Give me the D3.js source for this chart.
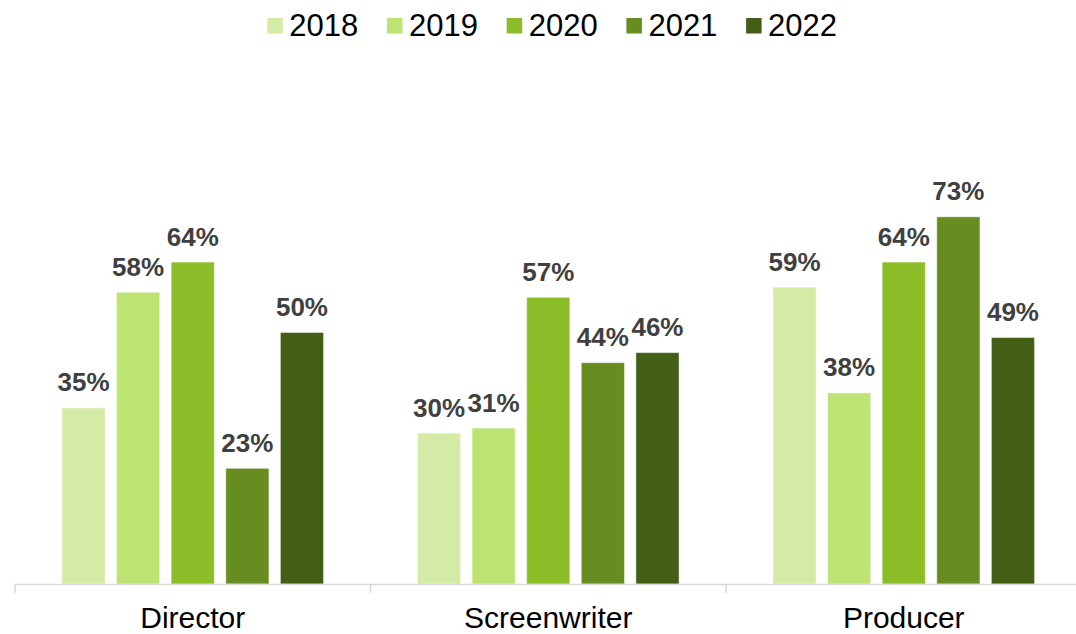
<!DOCTYPE html>
<html>
<head>
<meta charset="utf-8">
<script src="https://cdn.jsdelivr.net/npm/d3@7"></script>
<style>
  html, body { margin: 0; padding: 0; background: #ffffff; }
  svg { display: block; }
  text { font-family: "Liberation Sans", Arial, sans-serif; }
</style>
</head>
<body>
<svg id="chart" width="1076" height="634"></svg>
<script>
// Share of roles by year (percent)
const categories = ["Director", "Screenwriter", "Producer"];
const years = ["2018", "2019", "2020", "2021", "2022"];
const values2018 = [35, 30, 59];
const values2019 = [58, 31, 38];
const values2020 = [64, 57, 64];
const values2021 = [23, 44, 73];
const values2022 = [50, 46, 49];
const seriesValues = [values2018, values2019, values2020, values2021, values2022];
const colors = ["#d3eba4", "#bde372", "#8abd27", "#678c20", "#435f15"];

const svg = d3.select("#chart");
const W = 1076, H = 634;
const baseY = 584;

const x0 = d3.scaleBand().domain(categories).range([15, 1081.5]).padding(0);
const x1 = d3.scaleBand().domain(years).range([0, x0.bandwidth()])
  .paddingInner(0.21).paddingOuter(0.86);
const y = d3.scaleLinear().domain([0, 80]).range([baseY, 181.6]);
const color = d3.scaleOrdinal().domain(years).range(colors);

// Flatten into rows
const rows = [];
categories.forEach((c, ci) => {
  years.forEach((yr, yi) => {
    rows.push({ cat: c, year: yr, value: seriesValues[yi][ci] });
  });
});

// Bars
svg.append("g").selectAll("rect").data(rows).join("rect")
  .attr("x", d => x0(d.cat) + x1(d.year))
  .attr("y", d => y(d.value))
  .attr("width", x1.bandwidth())
  .attr("height", d => y(0) - y(d.value))
  .attr("fill", d => color(d.year))
  .attr("stroke", "rgba(255,255,255,0.45)")
  .attr("stroke-width", 1);

// Value labels
svg.append("g").selectAll("text").data(rows).join("text")
  .attr("x", d => x0(d.cat) + x1(d.year) + x1.bandwidth() / 2)
  .attr("y", d => y(d.value) - 16.5)
  .attr("text-anchor", "middle")
  .attr("font-size", "26px")
  .attr("font-weight", "bold")
  .attr("fill", "#404040")
  .text(d => d.value + "%");

// Category axis with boundary ticks
const axisG = svg.append("g");
axisG.append("line")
  .attr("x1", 15).attr("x2", W)
  .attr("y1", baseY + 0.5).attr("y2", baseY + 0.5)
  .attr("stroke", "#d9d9d9").attr("stroke-width", 1.5);
const bounds = categories.map(c => x0(c)).concat([x0.range()[1]]);
axisG.selectAll("line.tick").data(bounds).join("line")
  .attr("class", "tick")
  .attr("x1", d => d).attr("x2", d => d)
  .attr("y1", baseY).attr("y2", baseY + 9)
  .attr("stroke", "#d9d9d9").attr("stroke-width", 1.5);
axisG.selectAll("text").data(categories).join("text")
  .attr("x", d => x0(d) + x0.bandwidth() / 2)
  .attr("y", 627.5)
  .attr("text-anchor", "middle")
  .attr("font-size", "30px")
  .attr("fill", "#000000")
  .text(d => d);

// Legend
const legendX = d3.scaleOrdinal().domain(years).range(years.map((_, i) => 267.3 + i * 119.7));
const leg = svg.append("g").selectAll("g").data(years).join("g")
  .attr("transform", d => `translate(${legendX(d)},0)`);
leg.append("rect")
  .attr("x", 0).attr("y", 18).attr("width", 15.5).attr("height", 15.5)
  .attr("fill", d => color(d));
leg.append("text")
  .attr("x", 22).attr("y", 36)
  .attr("font-size", "31px")
  .attr("fill", "#000000")
  .text(d => d);
</script>
</body>
</html>
